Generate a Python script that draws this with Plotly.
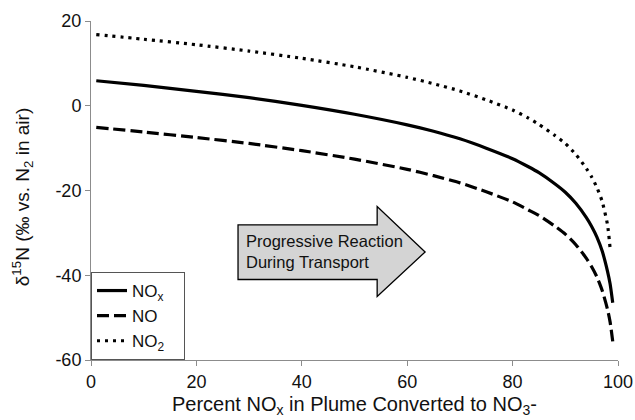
import plotly.graph_objects as go

# Percent of NOx converted (x) and d15N values
pct = [1, 10, 20, 30, 40, 50, 60, 65, 70, 75, 80, 83, 85, 88, 90, 92, 94, 95, 96, 97, 98, 98.5, 99]
nox = [5.9, 4.8, 3.4, 1.9, 0.1, -2.0, -4.5, -6.0, -7.8, -10.0, -12.5, -14.4, -15.8, -18.4, -20.4,
       -23.0, -26.4, -28.5, -31.0, -34.3, -39.0, -42.0, -46.5]
no = [-5.1, -6.2, -7.5, -8.9, -10.6, -12.6, -15.0, -16.5, -18.2, -20.3, -22.7, -24.6, -25.9, -28.4,
      -30.3, -32.8, -36.0, -38.0, -40.4, -43.6, -48.0, -51.0, -55.6]
pct_no2 = [1, 10, 20, 30, 40, 50, 60, 65, 70, 75, 80, 83, 85, 88, 90, 92, 94, 95, 96, 97, 98, 98.5]
no2 = [16.8, 15.7, 14.4, 12.9, 11.2, 9.2, 6.7, 5.2, 3.5, 1.4, -1.0, -2.9, -4.4, -7.0, -8.9,
       -11.5, -14.8, -16.8, -19.3, -22.6, -28.0, -33.6]

series_names = ["NO<sub>x</sub>", "NO", "NO<sub>2</sub>"]
x_ticks = [0, 20, 40, 60, 80, 100]
y_ticks = [-60, -40, -20, 0, 20]
y_tick_text = ["-60", "-40", "-20", "0", "20"]

FONT = "Liberation Sans, Arial, sans-serif"
TXT = "#111"
PAD = "&nbsp;&nbsp;&nbsp;"

fig = go.Figure()
fig.add_trace(go.Scatter(x=pct, y=nox, mode="lines", name=series_names[0] + PAD,
                         line=dict(color="black", width=3.2, shape="spline", smoothing=0.6)))
fig.add_trace(go.Scatter(x=pct, y=no, mode="lines", name=series_names[1] + PAD,
                         line=dict(color="black", width=3.2, dash="12px,5px",
                                   shape="spline", smoothing=0.6)))
fig.add_trace(go.Scatter(x=pct_no2, y=no2, mode="lines", name=series_names[2] + PAD,
                         line=dict(color="black", width=3.2, dash="3px,5px",
                                   shape="spline", smoothing=0.6)))

# Block arrow annotation (data coordinates)
arrow_path = ("M 27.9,-28.1 L 54.3,-28.1 L 54.3,-23.8 L 63.4,-34.5 "
              "L 54.3,-45.0 L 54.3,-41.0 L 27.9,-41.0 Z")
fig.add_shape(type="path", path=arrow_path, xref="x", yref="y",
              fillcolor="#d4d4d4", line=dict(color="black", width=1.3), layer="below")
fig.add_annotation(x=29.0, y=-34.4, xref="x", yref="y", xanchor="left", yanchor="middle",
                   text="Progressive Reaction<br>During Transport", showarrow=False,
                   align="left", font=dict(family=FONT, size=16.5, color=TXT))

# Axis titles as annotations for precise placement
fig.add_annotation(x=0.5, y=-0.133, xref="paper", yref="paper", xanchor="center",
                   yanchor="middle", showarrow=False,
                   text="Percent NO<sub>x</sub> in Plume Converted to NO<sub>3</sub>-",
                   font=dict(family=FONT, size=20, color=TXT))
fig.add_annotation(x=-0.131, y=0.48, xref="paper", yref="paper", xanchor="center",
                   yanchor="middle", showarrow=False, textangle=-90,
                   text="δ<sup>15</sup>N (‰ vs. N<sub>2</sub> in air)",
                   font=dict(family=FONT, size=19, color=TXT))

fig.update_layout(
    width=635, height=420,
    margin=dict(l=91, r=17, t=21, b=60, autoexpand=False),
    paper_bgcolor="white", plot_bgcolor="white",
    font=dict(family=FONT, color=TXT),
    showlegend=True,
    legend=dict(x=0, y=0, xanchor="left", yanchor="bottom",
                bordercolor="#555", borderwidth=1, bgcolor="white",
                font=dict(family=FONT, size=17, color=TXT),
                itemwidth=30),
    xaxis=dict(range=[0, 100], tickvals=x_ticks, showgrid=False, zeroline=False,
               showline=True, linecolor="#8c8c8c", linewidth=1, automargin=False,
               ticks="outside", ticklen=5, tickcolor="#8c8c8c",
               tickfont=dict(family=FONT, size=18, color=TXT)),
    yaxis=dict(range=[-60, 20], tickvals=y_ticks, ticktext=y_tick_text,
               showgrid=False, zeroline=False, automargin=False,
               showline=True, linecolor="#8c8c8c", linewidth=1,
               ticks="outside", ticklen=5, tickcolor="#8c8c8c",
               tickfont=dict(family=FONT, size=18, color=TXT)),
)

fig.write_html("out.html", config={"displayModeBar": False},
               post_script="document.body.style.margin='0';document.body.style.overflow='hidden';")
